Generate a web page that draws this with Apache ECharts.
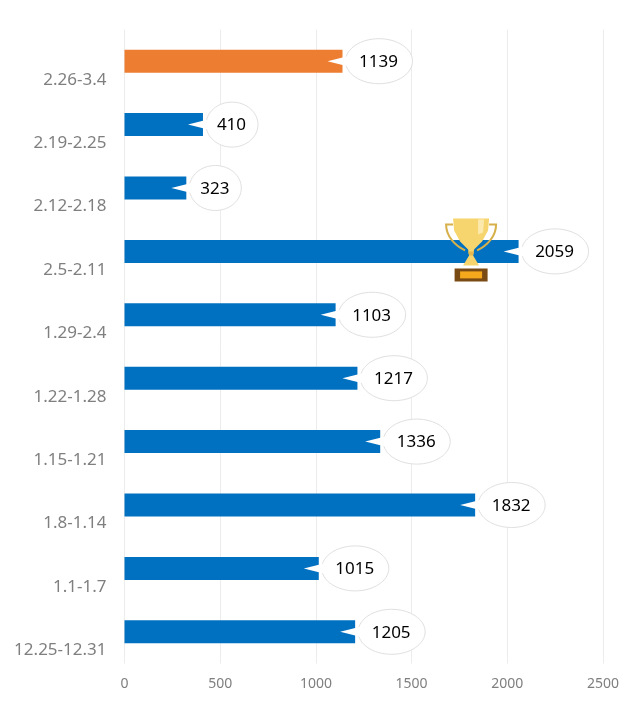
<!DOCTYPE html>
<html><head><meta charset="utf-8">
<style>html,body{margin:0;padding:0;background:#fff}#c{width:640px;height:719px}</style>
<script src="https://cdn.jsdelivr.net/npm/echarts@6/dist/echarts.min.js"></script>
</head><body><div id="c"></div>
<script>
const categories = ['2.26-3.4','2.19-2.25','2.12-2.18','2.5-2.11','1.29-2.4','1.22-1.28','1.15-1.21','1.8-1.14','1.1-1.7','12.25-12.31'];
const values = [1139,410,323,2059,1103,1217,1336,1832,1015,1205];
const highlightedCategory = '2.26-3.4';
const trophyCategory = '2.5-2.11';
const FONT = '"Noto Sans","Open Sans",sans-serif';

function trophy(x, y) {
  const gold = '#f7d56e', dark = '#e3b94f';
  return {type:'group', x, y, children:[
    {type:'path', shape:{pathData:'M-18 6 L-25 6 C-25 18 -16 27 -6 32', layout:'none'}, style:{stroke:'#d6b04a',lineWidth:2,fill:'none'}},
    {type:'path', shape:{pathData:'M18 6 L25 6 C25 18 16 27 6 32', layout:'none'}, style:{stroke:'#d6b04a',lineWidth:2,fill:'none'}},
    {type:'polygon', shape:{points:[[-18,0],[18,0],[17,12],[11,23],[3,31],[2,37],[8,47],[-8,47],[-2,37],[-3,31],[-11,23],[-17,12]]}, style:{fill:gold}},
    {type:'polygon', shape:{points:[[7,1],[13,1],[12,14],[7,16]]}, style:{fill:'#fbe9ad'}},
    {type:'polygon', shape:{points:[[-3,33],[3,33],[2,37],[-2,37]]}, style:{fill:dark}},
    {type:'rect', shape:{x:-16.5,y:50,width:33,height:13}, style:{fill:'#7a4a14'}},
    {type:'rect', shape:{x:-11,y:53,width:22,height:7}, style:{fill:'#f5a81c'}}
  ]};
}

const chart = echarts.init(document.getElementById('c'), null, {renderer:'canvas'});
chart.setOption({
  animation:false,
  backgroundColor:'#fff',
  grid:{left:124.5,right:37,top:29.5,bottom:55.5,containLabel:false},
  xAxis:{type:'value',min:0,max:2500,interval:500,
    axisLine:{show:false},axisTick:{show:false},
    axisLabel:{color:'#7f7f7f',fontSize:14,fontFamily:FONT,margin:13.5,formatter:v=>String(v)},
    splitLine:{show:true,lineStyle:{color:'#ececec',width:1}}},
  yAxis:{type:'category',inverse:true,data:categories,
    axisLine:{show:false},axisTick:{show:false},splitLine:{show:false},
    axisLabel:{color:'#7f7f7f',fontSize:17,fontFamily:FONT,margin:18,verticalAlign:'top',lineHeight:37}},
  series:[
    {type:'bar',barWidth:23,silent:true,
     data:values.map((v,i)=>({value:v,itemStyle:{color:categories[i]===highlightedCategory?'#ed7d31':'#0070c0'}}))},
    {type:'custom',silent:true,z:5,
     data:values.map((v,i)=>[v,i]),
     encode:{x:0,y:1},
     renderItem(params,api){
       const v=api.value(0), i=api.value(1);
       const p=api.coord([v,i]);
       const ex=p[0], cy=p[1];
       const rx=v>=1000?33.5:26, ry=22.5;
       const left=ex+3, cx=left+rx;
       const children=[
         {type:'ellipse',shape:{cx,cy,rx,ry},style:{fill:'#fff',stroke:'#e0e0e0',lineWidth:1}},
         {type:'polygon',shape:{points:[[ex-15,cy],[ex+5,cy-5],[ex+5,cy+5]]},style:{fill:'#fff'}},
         {type:'text',style:{x:cx-0.5,y:cy+1,text:String(v),fill:'#000',font:'17px '+FONT,align:'center',verticalAlign:'middle'}}
       ];
       if(categories[i]===trophyCategory) children.unshift(trophy(ex-47.5,cy-33));
       return {type:'group',children};
     }}
  ]
});
</script></body></html>
